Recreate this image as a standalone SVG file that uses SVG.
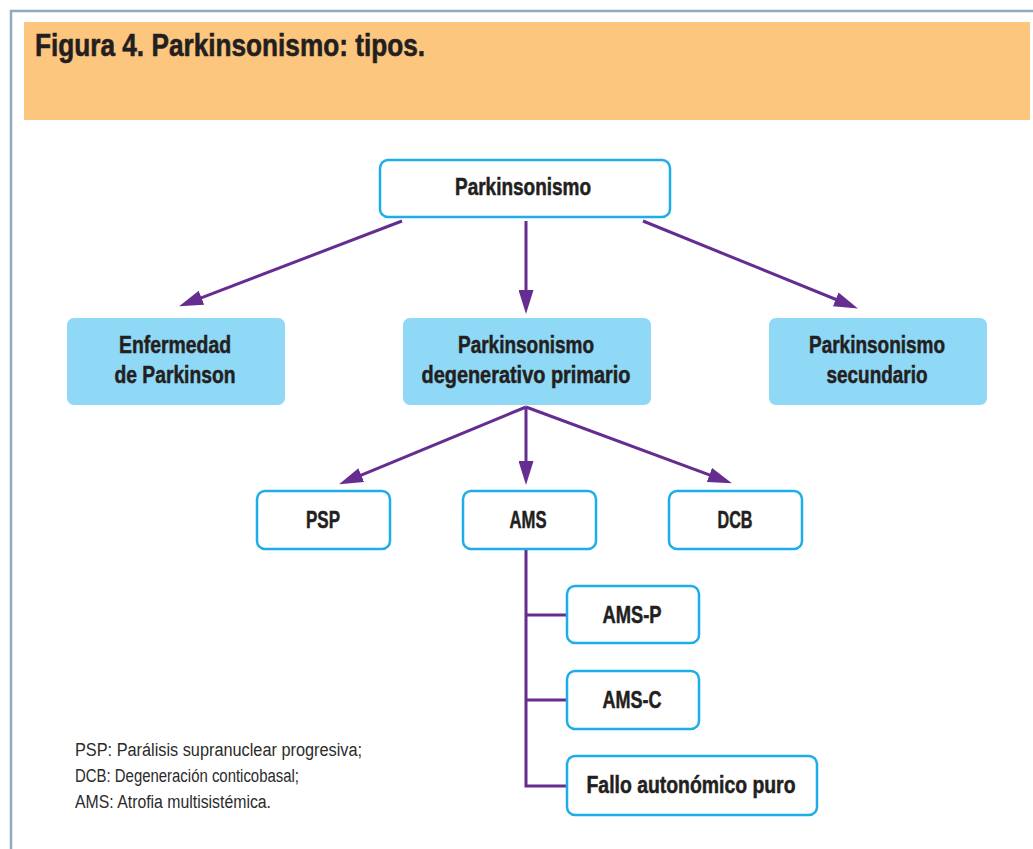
<svg xmlns="http://www.w3.org/2000/svg" width="1033" height="849" viewBox="0 0 1033 849">
  <defs>
    <marker id="arrowhead" viewBox="0 0 24 15" refX="15" refY="7.5" markerWidth="24" markerHeight="15" markerUnits="userSpaceOnUse" orient="auto">
      <path d="M0,0 L24,7.5 L0,15 z" fill="#662D91"/>
    </marker>
  </defs>
  <style>
    .frame { stroke: #8FABBD; stroke-width: 2.5; fill: none; }
    .outline { fill: #FFFFFF; stroke: #1DADE9; stroke-width: 2.5; }
    .filled { fill: #8FD8F6; stroke: none; }
    .label { font-family: "Liberation Sans", Arial, sans-serif; font-weight: bold; font-size: 23px; fill: #231F20; stroke: #231F20; stroke-width: 0.5; text-anchor: middle; }
    .title { font-family: "Liberation Sans", Arial, sans-serif; font-weight: bold; font-size: 31px; fill: #231F20; stroke: #231F20; stroke-width: 0.6; }
    .note { font-family: "Liberation Sans", Arial, sans-serif; font-size: 18px; fill: #2B2B2B; }
    .link { stroke: #662D91; stroke-width: 3; fill: none; }
  </style>

  <rect width="1033" height="849" fill="#FFFFFF"/>

  <!-- frame and header band -->
  <line class="frame" x1="10" y1="11" x2="1033" y2="11"/>
  <line class="frame" x1="11" y1="10" x2="11" y2="849"/>
  <rect x="24" y="22" width="1006" height="98" fill="#FCC67E"/>
  <text class="title" x="35" y="56" textLength="390" lengthAdjust="spacingAndGlyphs">Figura 4. Parkinsonismo: tipos.</text>

  <!-- connectors -->
  <g id="connectors">
    <line class="link" x1="402" y1="221" x2="187.5" y2="303.1" marker-end="url(#arrowhead)"/>
    <line class="link" x1="526" y1="221" x2="526" y2="305" marker-end="url(#arrowhead)"/>
    <line class="link" x1="643" y1="221" x2="849.6" y2="305" marker-end="url(#arrowhead)"/>
    <line class="link" x1="526" y1="407" x2="347.4" y2="480.9" marker-end="url(#arrowhead)"/>
    <line class="link" x1="526" y1="407" x2="526" y2="476" marker-end="url(#arrowhead)"/>
    <line class="link" x1="526" y1="407" x2="723.5" y2="480.2" marker-end="url(#arrowhead)"/>
    <path class="link" d="M526,549 V786 H567 M526,615 H567 M526,700 H567"/>
  </g>

  <!-- nodes -->
  <g id="node-parkinsonismo">
    <rect class="outline" x="380" y="160" width="290" height="57" rx="8"/>
    <text class="label" x="523" y="195" textLength="136" lengthAdjust="spacingAndGlyphs">Parkinsonismo</text>
  </g>
  <g id="node-enfermedad">
    <rect class="filled" x="67" y="318" width="218" height="87" rx="7"/>
    <text class="label" x="175" y="353" textLength="112" lengthAdjust="spacingAndGlyphs">Enfermedad</text>
    <text class="label" x="175" y="383" textLength="121" lengthAdjust="spacingAndGlyphs">de Parkinson</text>
  </g>
  <g id="node-degenerativo">
    <rect class="filled" x="403" y="318" width="248" height="87" rx="7"/>
    <text class="label" x="526" y="353" textLength="136" lengthAdjust="spacingAndGlyphs">Parkinsonismo</text>
    <text class="label" x="526" y="383" textLength="209" lengthAdjust="spacingAndGlyphs">degenerativo primario</text>
  </g>
  <g id="node-secundario">
    <rect class="filled" x="769" y="318" width="218" height="87" rx="7"/>
    <text class="label" x="877" y="353" textLength="136" lengthAdjust="spacingAndGlyphs">Parkinsonismo</text>
    <text class="label" x="877" y="383" textLength="101" lengthAdjust="spacingAndGlyphs">secundario</text>
  </g>
  <g id="node-psp">
    <rect class="outline" x="257" y="491" width="133" height="58" rx="8"/>
    <text class="label" x="323" y="528" textLength="34" lengthAdjust="spacingAndGlyphs">PSP</text>
  </g>
  <g id="node-ams">
    <rect class="outline" x="463" y="491" width="133" height="58" rx="8"/>
    <text class="label" x="528" y="528" textLength="37" lengthAdjust="spacingAndGlyphs">AMS</text>
  </g>
  <g id="node-dcb">
    <rect class="outline" x="669" y="491" width="133" height="58" rx="8"/>
    <text class="label" x="735" y="528" textLength="35" lengthAdjust="spacingAndGlyphs">DCB</text>
  </g>
  <g id="node-ams-p">
    <rect class="outline" x="567" y="586" width="132" height="57" rx="8"/>
    <text class="label" x="632" y="623" textLength="59" lengthAdjust="spacingAndGlyphs">AMS-P</text>
  </g>
  <g id="node-ams-c">
    <rect class="outline" x="567" y="671" width="132" height="58" rx="8"/>
    <text class="label" x="632" y="708" textLength="59" lengthAdjust="spacingAndGlyphs">AMS-C</text>
  </g>
  <g id="node-fallo">
    <rect class="outline" x="567" y="756" width="250" height="59" rx="8"/>
    <text class="label" x="691" y="793" textLength="209" lengthAdjust="spacingAndGlyphs">Fallo autonómico puro</text>
  </g>

  <!-- abbreviations -->
  <text class="note" x="75" y="756" textLength="287" lengthAdjust="spacingAndGlyphs">PSP: Parálisis supranuclear progresiva;</text>
  <text class="note" x="75" y="782" textLength="224" lengthAdjust="spacingAndGlyphs">DCB: Degeneración conticobasal;</text>
  <text class="note" x="75" y="808" textLength="196" lengthAdjust="spacingAndGlyphs">AMS: Atrofia multisistémica.</text>
</svg>
